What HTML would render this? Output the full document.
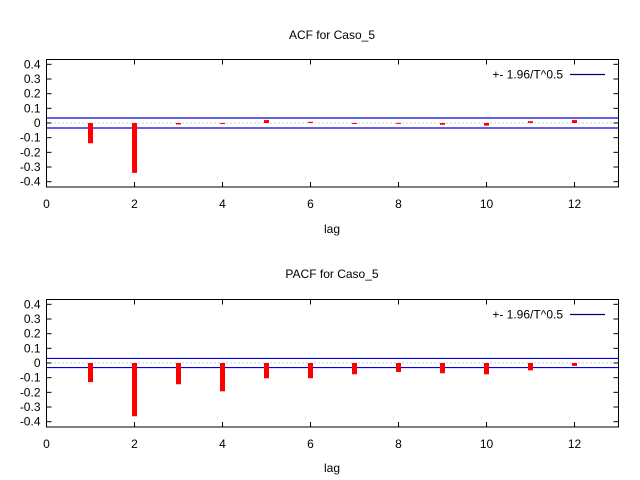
<!DOCTYPE html>
<html><head><meta charset="utf-8"><style>
html,body{margin:0;padding:0;background:#fff}
svg{display:block;font-family:"Liberation Sans",sans-serif}
</style></head><body>
<svg id="c" width="640" height="480" viewBox="0 0 640 480"></svg>
<script>
const lags = [1,2,3,4,5,6,7,8,9,10,11,12];
const acfValues = [-0.138,-0.34,-0.01,-0.004,0.02,0.008,-0.002,0.001,-0.012,-0.018,0.012,0.02];
const pacfValues = [-0.13,-0.363,-0.145,-0.193,-0.104,-0.104,-0.077,-0.061,-0.07,-0.077,-0.05,-0.02];
const acfBand = 0.034;
const pacfBand = 0.031;
const yTicks = [0.4,0.3,0.2,0.1,0,-0.1,-0.2,-0.3,-0.4];
const yTickLabels = ["0.4","0.3","0.2","0.1","0","-0.1","-0.2","-0.3","-0.4"];
const xTicks = [0,2,4,6,8,10,12];

const NS="http://www.w3.org/2000/svg";
const svg=document.getElementById('c');
function mk(tag,attrs,parent){const e=document.createElementNS(NS,tag);for(const k in attrs)e.setAttribute(k,attrs[k]);(parent||svg).appendChild(e);return e;}

function panel(name,title,values,band,top,bottom,zeroY,titleY,lagY){
  const L=46.5,R=618.5;
  const g=mk('g',{});
  
  
  const xs=v=>L+v*44;
  const ys=v=>zeroY-v*146.7;
  const t=mk('text',{x:332,y:titleY,'text-anchor':'middle','font-size':12,fill:'#000'},g);
  t.textContent=title;
  
  
  const z=mk('line',{x1:L,x2:R,y1:ys(0),y2:ys(0),stroke:'#a0a0a0','stroke-width':1,'stroke-dasharray':'1,3'},g);
  
  
  [band,-band].forEach((b,i)=>{
    const l=mk('line',{x1:L,x2:R,y1:ys(b),y2:ys(b),stroke:'#0000e0','stroke-width':1.2},g);
    
    
  });
  values.forEach((v,i)=>{
    const x=xs(lags[i]);const y0=ys(0),y1=ys(v);
    const h=Math.max(Math.abs(y1-y0),1);
    const r=mk('rect',{x:x-2.5,y:Math.min(y0,y1),width:5,height:h,fill:'#ff0000'},g);
    
    
  });
  const f=mk('rect',{x:L,y:top,width:R-L,height:bottom-top,fill:'none',stroke:'#000','stroke-width':1},g);
  
  
  yTicks.forEach((v,i)=>{
    const y=ys(v);
    mk('line',{x1:L,x2:L+5,y1:y,y2:y,stroke:'#000'},g);
    mk('line',{x1:R,x2:R-5,y1:y,y2:y,stroke:'#000'},g);
    const tl=mk('text',{x:L-6,y:y+4,'text-anchor':'end','font-size':12,fill:'#000'},g);
    tl.textContent=yTickLabels[i];
    
    
  });
  xTicks.forEach(v=>{
    const x=xs(v);
    if(v>0){mk('line',{x1:x,x2:x,y1:bottom,y2:bottom-5,stroke:'#000'},g);
    mk('line',{x1:x,x2:x,y1:top,y2:top+5,stroke:'#000'},g);}
    const tl=mk('text',{x:x,y:bottom+21,'text-anchor':'middle','font-size':12,fill:'#000'},g);
    tl.textContent=String(v);
    
    
  });
  const xl=mk('text',{x:332,y:lagY,'text-anchor':'middle','font-size':12,fill:'#000'},g);
  xl.textContent='lag';
  
  
  const lg=mk('g',{},g);
  
  
  const lt=mk('text',{x:563,y:top+19,'text-anchor':'end','font-size':12,fill:'#000'},lg);
  lt.textContent='+- 1.96/T^0.5';
  mk('line',{x1:570,x2:605,y1:top+15,y2:top+15,stroke:'#000080','stroke-width':1.2},lg);
}
panel('acf','ACF for Caso_5',acfValues,acfBand,59.5,187,123,39,233);
panel('pacf','PACF for Caso_5',pacfValues,pacfBand,299.5,427,363,278,472);
</script>
</body></html>
